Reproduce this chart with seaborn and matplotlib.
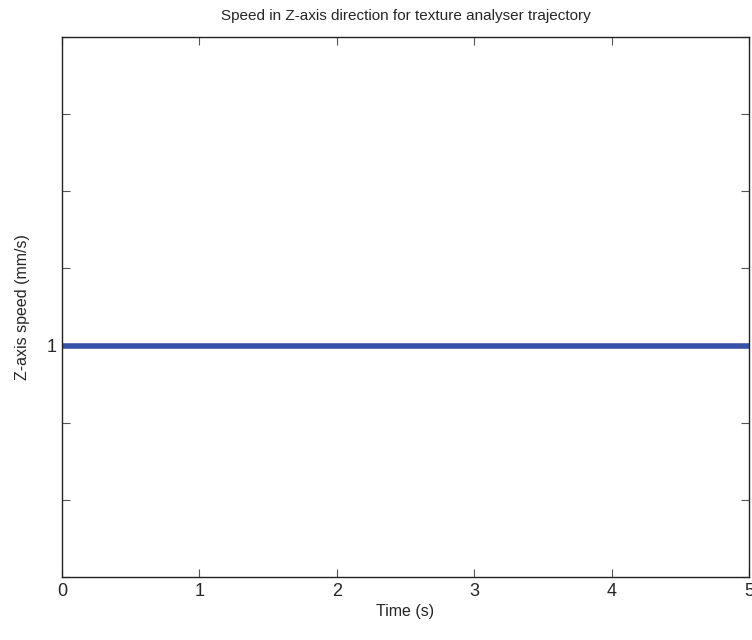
import numpy as np
import pandas as pd
import matplotlib
matplotlib.use("Agg")
import matplotlib.pyplot as plt
import seaborn as sns

# Data
time_s = [0.0, 0.5, 1.0, 1.5, 2.0, 2.5, 3.0, 3.5, 4.0, 4.5, 5.0]
speed_mm_s = [1.0, 1.0, 1.0, 1.0, 1.0, 1.0, 1.0, 1.0, 1.0, 1.0, 1.0]
x_ticks = [0, 1, 2, 3, 4, 5]
y_step = 1e-4
y_ticks = [1 + k * y_step for k in range(-3, 5)]
y_ticklabels = ["", "", "", "1", "", "", "", ""]

sns.set_theme(style="white")
plt.rcParams['font.family'] = ['Liberation Sans', 'DejaVu Sans']

df = pd.DataFrame({"Time (s)": time_s, "speed": speed_mm_s})

fig = plt.figure(figsize=(7.52, 6.4), dpi=100)
ax = fig.add_axes([62/752, 1 - 577/640, (749-62)/752, (577-37)/640])
sns.lineplot(data=df, x="Time (s)", y="speed", ax=ax, color="#3552a8", linewidth=4)

ax.set_xlim(0, 5)
ax.set_ylim(y_ticks[0], y_ticks[-1])
ax.set_xticks(x_ticks)
ax.set_xticklabels([str(t) for t in x_ticks], fontsize=13)
ax.set_yticks(y_ticks)
ax.set_yticklabels(y_ticklabels, fontsize=13)
ax.tick_params(direction="in", length=6, width=0.8, color="#555555",
               top=True, right=True, bottom=True, left=True, pad=4)
for s in ax.spines.values():
    s.set_color("#222222")
    s.set_linewidth(1.0)
ax.set_xlabel("Time (s)", fontsize=11.5, labelpad=3)
ax.set_ylabel("Z-axis speed (mm/s)", fontsize=11.5, labelpad=12)
ax.set_title("Speed in Z-axis direction for texture analyser trajectory", fontsize=11, pad=12)
fig.savefig("out.png", dpi=100)
